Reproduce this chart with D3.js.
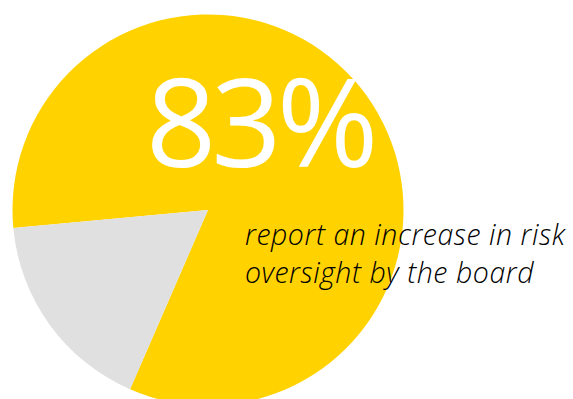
<!DOCTYPE html>
<html>
<head>
<meta charset="utf-8">
<script src="https://cdn.jsdelivr.net/npm/d3@7"></script>
<style>
  html, body { margin: 0; padding: 0; background: #fff; }
  svg { display: block; }
</style>
</head>
<body>
<svg id="chart" width="573" height="399"></svg>
<script>
// Share of respondents
const categories = ["Increase in risk oversight", "Other"];
const values = [83, 17];
const colors = ["#FFD200", "#E0E0E0"];
const headline = "83%";
const captionLines = ["report an increase in risk", "oversight by the board"];

const svg = d3.select("#chart");
const cx = 208, cy = 210, radius = 195.5;

// The "other" slice sits on the lower left
const startAngle = -95.3 * Math.PI / 180;
const pie = d3.pie().sort(null)
  .startAngle(startAngle)
  .endAngle(startAngle + 2 * Math.PI);
const arc = d3.arc().innerRadius(0).outerRadius(radius);

const g = svg.append("g").attr("transform", `translate(${cx},${cy})`);
g.selectAll("path")
  .data(pie(values))
  .join("path")
  .attr("d", arc)
  .attr("fill", (d, i) => colors[i]);

svg.append("text")
  .attr("x", 146)
  .attr("y", 167)
  .attr("fill", "#fff")
  .style("font-family", "'Open Sans', sans-serif")
  .style("font-weight", 400)
  .style("font-size", "123px")
  .style("letter-spacing", "-5px")
  .text(headline);

const cap = svg.append("text")
  .attr("x", 245)
  .attr("y", 245)
  .attr("fill", "#000")
  .style("font-family", "'Open Sans', sans-serif")
  .style("font-style", "italic")
  .style("font-weight", 300)
  .style("font-size", "28.5px")
  .style("letter-spacing", "0.55px");
cap.selectAll("tspan")
  .data(captionLines)
  .join("tspan")
  .attr("x", 245)
  .attr("dy", (d, i) => i === 0 ? 0 : 38)
  .text(d => d);
</script>
</body>
</html>
